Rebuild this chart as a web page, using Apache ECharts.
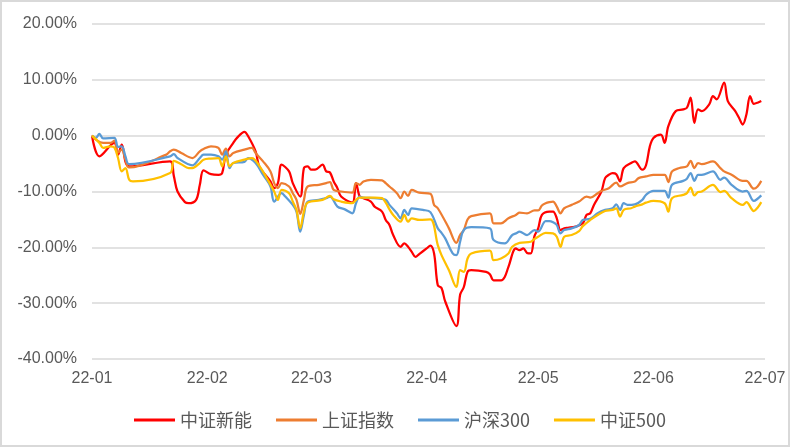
<!DOCTYPE html>
<html><head><meta charset="utf-8">
<script src="https://cdn.jsdelivr.net/npm/echarts@6/dist/echarts.min.js"></script>
<style>html,body{margin:0;padding:0;background:#fff}#c{width:790px;height:447px}</style>
</head><body><div id="c"></div>
<script>
const YEAR = 2022;
const tickDates = ['01-01','02-01','03-01','04-01','05-01','06-01','07-01'];
const tickLabels = ['22-01','22-02','22-03','22-04','22-05','22-06','22-07'];
const seriesNames = ['中证新能','上证指数','沪深300','中证500'];

const xinnengDates = [
 '01-01','01-03','01-07','01-08','01-09','01-11','01-22','01-23','01-24','01-26','01-27','01-29','01-30','01-31',
 '02-02','02-04','02-05','02-06','02-08','02-09','02-11','02-12','02-14','02-15','02-18','02-19','02-20','02-21','02-23','02-24','02-26','02-27','02-28',
 '03-01','03-02','03-04','03-05','03-06','03-07','03-08','03-09','03-12','03-13','03-14','03-15','03-17','03-18','03-20','03-21','03-22','03-23','03-25','03-26','03-27','03-28','03-29','03-30',
 '04-01','04-02','04-03','04-04','04-05','04-06','04-09','04-10','04-11','04-12','04-13','04-17','04-18','04-19','04-21','04-22','04-23','04-25','04-26','04-27','04-28','04-29','04-30',
 '05-01','05-02','05-04','05-05','05-06','05-07','05-08','05-09','05-11','05-13','05-14','05-15','05-16','05-18','05-19','05-20','05-21','05-22','05-23','05-24','05-26','05-27','05-29','05-30','05-31',
 '06-01','06-03','06-04','06-05','06-07','06-09','06-10','06-11','06-12','06-13','06-14','06-16','06-17','06-18','06-20','06-21','06-23','06-24','06-25','06-26','06-27','06-28','06-29','06-30'];
const xinnengValues = [
 0,-3.7,-1.3,-3.4,-1.6,-5.5,-4.6,-7.2,-10,-11.9,-12.1,-11.5,-8.8,-6.2,
 -6.9,-7,-6.7,-3.4,-1.3,-0.4,0.7,-0.1,-2.8,-5.5,-8.2,-9.4,-8.5,-5.2,-6.4,-8.5,-10.9,-5.8,-5.5,
 -6.1,-6.1,-5.2,-6.4,-6.6,-8.2,-9.4,-10.9,-12.0,-8.5,-10.9,-11.2,-11.8,-12.7,-13.6,-15.1,-16,-17.8,-19.9,-19.3,-19.9,-20.8,-21.7,-21.2,
 -20.2,-19.7,-21.1,-26.8,-27.3,-29.7,-34.1,-28.5,-27.1,-24.4,-24.1,-24.4,-24.8,-25.9,-25.9,-25.3,-23.5,-20.2,-20.5,-20.2,-21,-21.1,-18,
 -16.6,-14.2,-13.6,-13.6,-14.8,-16.9,-16.6,-16.5,-16.3,-15.7,-14.2,-13.9,-12.4,-10,-7.6,-7,-6.7,-6.9,-8.2,-5.8,-4.9,-4.6,-6.1,-5.3,-2.0,
 -0.4,0.2,-1.3,1.7,4.4,4.7,5,6.8,2.3,4.7,4.4,5.6,7.1,6.5,9.5,6.2,4.4,3.2,2,3.8,7.1,5.7,5.9,6.2];

const shangzhengDates = [
 '01-01','01-02','01-04','01-06','01-07','01-08','01-09','01-10','01-11','01-21','01-22','01-23','01-25','01-28','01-30','01-31',
 '02-02','02-04','02-05','02-06','02-07','02-08','02-11','02-13','02-14','02-16','02-18','02-19','02-20','02-21','02-23','02-24','02-25','02-26','02-27','02-28',
 '03-03','03-05','03-06','03-07','03-09','03-12','03-13','03-14','03-15','03-17','03-20','03-21','03-22','03-24','03-25','03-26','03-27','03-28','03-30',
 '04-02','04-03','04-04','04-07','04-09','04-10','04-11','04-12','04-13','04-18','04-19','04-21','04-23','04-25','04-26','04-28','04-30',
 '05-01','05-02','05-03','05-04','05-05','05-06','05-07','05-08','05-10','05-12','05-14','05-15','05-17','05-18','05-20','05-22','05-23','05-25','05-27','05-28','05-30',
 '06-01','06-04','06-05','06-06','06-08','06-10','06-11','06-12','06-13','06-14','06-17','06-19','06-20','06-22','06-25','06-26','06-28','06-29','06-30'];
const shangzhengValues = [
 0,-0.7,-1.3,-1.3,-0.9,-3.0,-2.5,-4.3,-5.7,-3.4,-2.8,-2.5,-3.1,-4,-2.8,-2.4,
 -1.9,-2.2,-3.4,-2.3,-3.7,-3.1,-2.5,-2.2,-3.1,-4.6,-6.4,-8.5,-9.4,-8.5,-9.1,-10.3,-11.5,-14,-11.5,-9.1,
 -8.8,-8.5,-8.3,-9.7,-10,-10.2,-8.5,-8.8,-8.2,-7.9,-8,-8.5,-9.1,-10.3,-11.2,-10,-10.8,-9.7,-10.2,
 -10.4,-12.4,-13.0,-16.6,-19.2,-17.8,-16.9,-15,-14.4,-13.9,-15.7,-15.7,-14.8,-14.2,-13.8,-13.9,-13.4,
 -13.4,-12.5,-12.1,-11.9,-11.8,-12.7,-13.9,-13,-12.4,-11.8,-10.9,-11.1,-10.3,-9.9,-9.4,-8.4,-9.1,-8.5,-8.2,-7.6,-7.3,
 -7,-7,-8.3,-6.4,-5.8,-5.5,-4.5,-5.8,-4.9,-5.1,-4.6,-5.8,-6.4,-7,-8.1,-8.1,-9.5,-9.1,-8.1];

const hs300Dates = [
 '01-01','01-02','01-03','01-04','01-07','01-08','01-09','01-10','01-11','01-22','01-23','01-24','01-28','01-30','01-31',
 '02-02','02-04','02-05','02-06','02-07','02-08','02-11','02-12','02-14','02-16','02-18','02-19','02-21','02-22','02-24','02-25','02-26','02-27','02-28',
 '03-03','03-05','03-06','03-08','03-10','03-12','03-13','03-14','03-15','03-18','03-21','03-22','03-24','03-25','03-26','03-27','03-28','03-31',
 '04-02','04-04','04-05','04-06','04-08','04-09','04-10','04-11','04-13','04-18','04-19','04-22','04-24','04-25','04-26','04-28','04-30',
 '05-01','05-03','05-04','05-05','05-06','05-07','05-08','05-10','05-12','05-13','05-15','05-17','05-19','05-21','05-22','05-23','05-24','05-25','05-27','05-29','05-30',
 '06-01','06-04','06-05','06-06','06-09','06-10','06-11','06-12','06-13','06-14','06-17','06-19','06-20','06-22','06-25','06-26','06-28','06-29','06-30'];
const hs300Values = [
 0,-0.4,0.3,-0.5,-0.4,-2.0,-1.9,-3.7,-5.1,-3.7,-3.3,-4,-5.3,-4,-3.4,
 -3.4,-3.7,-4.3,-2.8,-5.8,-4.9,-4.7,-4,-4.9,-7,-9.1,-11.8,-10.3,-10.9,-12.4,-13.6,-17.2,-14.2,-11.8,
 -11.5,-11.2,-10.9,-12.7,-13.2,-13.9,-12.1,-10.9,-11.1,-11.2,-11.5,-12.4,-13.9,-14.8,-13.3,-14.2,-13,-13.3,
 -13.7,-16.6,-17.4,-18.4,-21.1,-21.4,-19,-16.9,-16.4,-16.6,-18.7,-19.3,-17.8,-17.5,-17.2,-17.8,-16.9,
 -17.2,-15.3,-15.3,-15.5,-16,-17.5,-16.9,-16.6,-16,-15.1,-14.9,-13.9,-13.3,-13,-12.3,-13.3,-12.1,-12.4,-12.3,-11.5,-10.6,
 -9.9,-9.9,-11.1,-8.8,-8.1,-7.7,-6.7,-8.1,-7,-7,-6.4,-7.9,-7.5,-8.8,-10,-9.9,-11.7,-11.3,-10.7];

const zz500Dates = [
 '01-01','01-03','01-04','01-06','01-07','01-08','01-09','01-10','01-11','01-12','01-22','01-23','01-25','01-27','01-28','01-30','01-31',
 '02-02','02-04','02-05','02-06','02-07','02-08','02-11','02-13','02-15','02-17','02-19','02-20','02-21','02-23','02-24','02-25','02-26','02-27','02-28',
 '03-04','03-06','03-07','03-09','03-12','03-13','03-14','03-18','03-20','03-21','03-22','03-23','03-25','03-26','03-27','03-28','03-30',
 '04-02','04-04','04-05','04-07','04-09','04-10','04-11','04-12','04-13','04-18','04-19','04-21','04-23','04-24','04-26','04-29','04-30',
 '05-01','05-03','05-05','05-06','05-07','05-08','05-10','05-12','05-13','05-15','05-17','05-19','05-21','05-22','05-23','05-24','05-26','05-27','05-29','05-30',
 '06-01','06-04','06-05','06-06','06-09','06-10','06-11','06-12','06-13','06-14','06-17','06-19','06-20','06-22','06-25','06-26','06-28','06-29','06-30'];
const zz500Values = [
 0,-1.3,-2.2,-1.9,-2.1,-4,-6.4,-5.8,-7.9,-8.2,-6.7,-4.5,-5.1,-5.8,-5.8,-4.9,-4.3,
 -4.1,-4,-5.5,-3.7,-5.5,-4.9,-4.3,-4,-5.4,-7.6,-10,-11.5,-9.7,-10.3,-11.8,-13.3,-16.6,-13.6,-12,
 -11.5,-10.8,-11.4,-11.8,-12.1,-11.5,-11.1,-11.1,-11.2,-12.0,-13.2,-14.2,-15.4,-14.2,-15.4,-14.8,-15.1,
 -15,-19.6,-21.4,-24.1,-27.1,-24.1,-24.4,-22,-21.1,-20.6,-22.3,-22,-21.1,-19.9,-19.2,-19,-18.5,
 -18.1,-17.4,-17.5,-18.1,-19.9,-18.1,-17.8,-17.1,-16.2,-15.1,-14.2,-13.5,-13.3,-13,-14.5,-13.3,-13,-12.7,-12.3,-12,
 -11.7,-12.1,-13.6,-11.2,-10.6,-10.3,-9.3,-10.7,-10.1,-10,-8.8,-10.1,-9.9,-11.2,-12.4,-11.9,-13.5,-12.9,-11.9];

const colors = ['#FF0000', '#ED7D31', '#5B9BD5', '#FFC000'];

function ts(md) { const p = md.split('-').map(Number); return new Date(YEAR, p[0] - 1, p[1]).getTime(); }
function pairs(ds, vs) { return ds.map((d, i) => [ts(d), vs[i]]); }
const tickTs = tickDates.map(ts);
const allData = [
  pairs(xinnengDates, xinnengValues),
  pairs(shangzhengDates, shangzhengValues),
  pairs(hs300Dates, hs300Values),
  pairs(zz500Dates, zz500Values)
];

const chart = echarts.init(document.getElementById('c'), null, { renderer: 'canvas' });
chart.setOption({
  animation: false,
  backgroundColor: '#ffffff',
  graphic: [{
    type: 'rect', silent: true, z: -10,
    shape: { x: 1, y: 1, width: 788, height: 445 },
    style: { fill: 'none', stroke: '#D9D9D9', lineWidth: 2 }
  }],
  grid: { left: 92, right: 25, top: 24, bottom: 88, containLabel: false },
  xAxis: {
    type: 'value', min: tickTs[0], max: tickTs[tickTs.length - 1],
    splitLine: { show: false }, axisTick: { show: false },
    axisLine: { show: false },
    axisLabel: {
      customValues: tickTs, showMinLabel: true, showMaxLabel: true,
      formatter: function (v) {
        let best = 0;
        for (let i = 1; i < tickTs.length; i++) if (Math.abs(tickTs[i] - v) < Math.abs(tickTs[best] - v)) best = i;
        return tickLabels[best];
      },
      color: '#595959', fontSize: 16, margin: 12, fontFamily: 'Liberation Sans'
    }
  },
  yAxis: {
    type: 'value', min: -40, max: 20, interval: 10,
    axisLine: { show: false }, axisTick: { show: false },
    splitLine: { lineStyle: { color: '#D9D9D9', width: 1.5 } },
    axisLabel: {
      formatter: v => v.toFixed(2) + '%',
      color: '#595959', fontSize: 16, margin: 15, fontFamily: 'Liberation Sans'
    }
  },
  legend: {
    data: seriesNames, left: 129, top: 406, icon: 'rect',
    itemWidth: 41, itemHeight: 3, itemGap: 24,
    textStyle: { fontSize: 18, color: '#595959', fontFamily: 'Noto Sans CJK SC' }
  },
  series: seriesNames.map((n, i) => ({
    name: n, type: 'line', data: allData[i], showSymbol: false, symbol: 'none',
    smooth: 0.35, color: colors[i],
    lineStyle: { width: 2.25, color: colors[i] }
  }))
});
</script></body></html>
